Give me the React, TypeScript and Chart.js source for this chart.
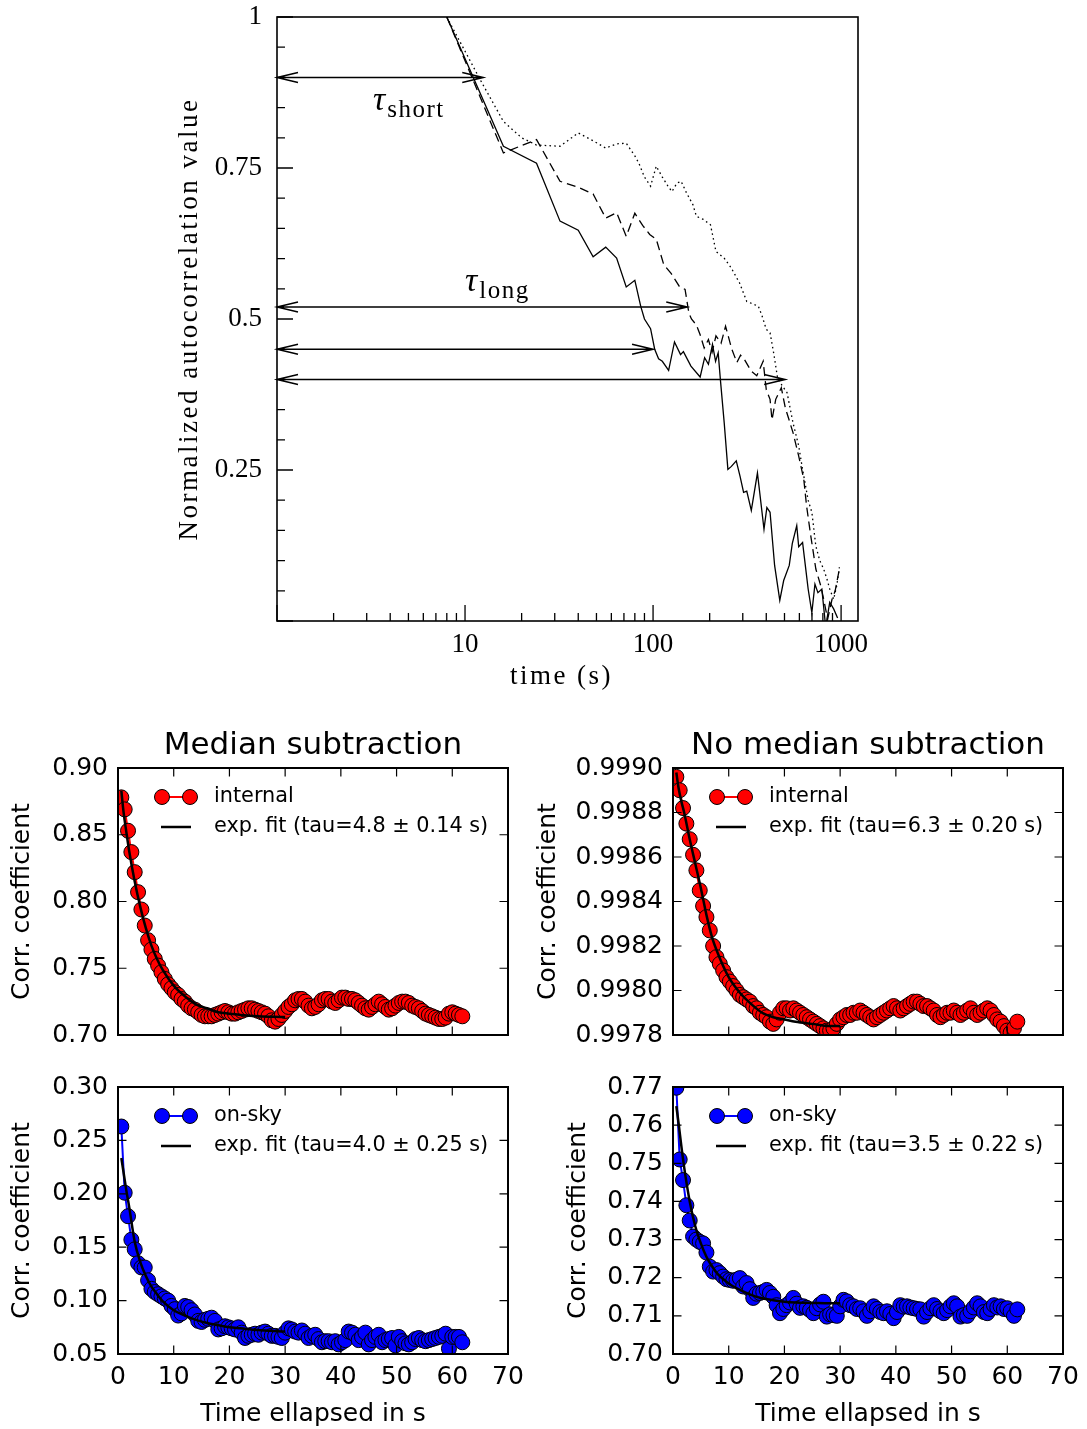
import React, { useEffect, useRef } from 'react';
import { Chart, registerables } from 'chart.js';

Chart.register(...registerables);

const SERIF = "'Liberation Serif', serif";
const SANS = "'DejaVu Sans', sans-serif";

// ---------------- Top chart data (log time axis) ----------------
const solidT = [8,16,24,32,40,48,56,64,72,80,86,90,97,102,107,112,121,130,140,145,159,178,188,197,207,215,222,228,239,250,261,277,290,303,315,333,359,389,403,419,443,472,495,530,550,581,595,624,638,668,699,726,753,790,828,870,913,958];
const solidV = [1.0,0.786,0.758,0.662,0.647,0.603,0.619,0.601,0.553,0.564,0.521,0.500,0.484,0.450,0.434,0.430,0.415,0.462,0.441,0.446,0.422,0.404,0.436,0.425,0.458,0.430,0.444,0.400,0.328,0.251,0.256,0.265,0.240,0.213,0.215,0.183,0.245,0.152,0.188,0.180,0.092,0.034,0.067,0.092,0.128,0.158,0.123,0.130,0.105,0.053,0.014,0.061,0.047,0.053,-0.010,0.031,0.020,0.005];

const dashedT = [8,16,24,32,40,48,56,64,72,80,88,96,104,114,125,138,148,155,160,170,178,187,197,206,216,230,243,252,261,279,292,306,332,356,385,400,419,429,449,481,505,555,595,633,655,686,734,780,808,848,895,930,979];
const dashedV = [1.0,0.775,0.797,0.728,0.718,0.707,0.667,0.676,0.637,0.675,0.655,0.640,0.632,0.590,0.575,0.554,0.549,0.510,0.500,0.490,0.474,0.452,0.466,0.445,0.472,0.460,0.488,0.470,0.452,0.428,0.440,0.433,0.414,0.406,0.430,0.383,0.367,0.333,0.367,0.386,0.353,0.312,0.273,0.235,0.191,0.146,0.086,0.058,0.036,0.003,0.036,0.050,0.086];

const dottedT = [8,12,16,20,24,32,40,48,56,64,72,80,84,90,97,104,112,120,126,134,141,150,163,170,185,202,216,240,260,288,315,340,363,380,400,419,440,458,485,516,555,595,624,668,699,734,770,808,840,870,913,950,979];
const dottedV = [1.0,0.897,0.827,0.800,0.788,0.786,0.808,0.795,0.783,0.790,0.791,0.770,0.758,0.735,0.720,0.753,0.735,0.720,0.711,0.725,0.728,0.710,0.689,0.670,0.665,0.656,0.612,0.600,0.585,0.560,0.529,0.525,0.521,0.505,0.483,0.477,0.440,0.405,0.390,0.378,0.328,0.290,0.251,0.200,0.180,0.124,0.100,0.086,0.070,0.053,0.036,0.060,0.089];

const topXMajor = [1, 10, 100, 1000];
const topXLabels = [10, 100, 1000];
const topXTicks = [1,2,3,4,5,6,7,8,9,10,20,30,40,50,60,70,80,90,100,200,300,400,500,600,700,800,900,1000];

// double-headed arrows (start time, end time, level)
const arrowStart = 1;
const arrowLevels = [0.9, 0.52, 0.45, 0.40];
const arrowEnds = [12.5, 152, 100, 504];
const tauLabels = [
  { t: 3.24, v: 0.846, sub: 'short' },
  { t: 10.0, v: 0.547, sub: 'long' },
];

// ---------------- Bottom panels data ----------------
const times = [
  0.6,1.2,1.8,2.4,3.0,3.6,4.2,4.8,5.4,6.0,
  6.6,7.2,7.8,8.4,9.0,9.6,10.2,10.8,11.4,12.0,
  12.6,13.2,13.8,14.4,15.0,15.6,16.2,16.8,17.4,18.0,
  18.6,19.2,19.8,20.4,21.0,21.6,22.2,22.8,23.4,24.0,
  24.6,25.2,25.8,26.4,27.0,27.6,28.2,28.8,29.4,30.0,
  30.6,31.2,31.8,32.4,33.0,33.6,34.2,34.8,35.4,36.0,
  36.6,37.2,37.8,38.4,39.0,39.6,40.2,40.8,41.4,42.0,
  42.6,43.2,43.8,44.4,45.0,45.6,46.2,46.8,47.4,48.0,
  48.6,49.2,49.8,50.4,51.0,51.6,52.2,52.8,53.4,54.0,
  54.6,55.2,55.8,56.4,57.0,57.6,58.2,58.8,59.4,60.0,
  60.6,61.2,61.8,
];

const medInternal = [
  0.878,0.869,0.853,0.837,0.822,0.807,0.794,0.782,0.771,0.764,
  0.757,0.752,0.747,0.742,0.738,0.735,0.732,0.730,0.727,0.725,
  0.722,0.720,0.719,0.717,0.715,0.714,0.714,0.714,0.715,0.716,
  0.717,0.718,0.717,0.716,0.716,0.717,0.718,0.719,0.720,0.720,
  0.719,0.718,0.717,0.716,0.714,0.711,0.710,0.712,0.715,0.718,
  0.721,0.723,0.726,0.727,0.727,0.725,0.722,0.720,0.721,0.723,
  0.726,0.727,0.727,0.725,0.724,0.726,0.728,0.728,0.727,0.727,
  0.726,0.724,0.722,0.720,0.719,0.721,0.723,0.725,0.723,0.721,
  0.719,0.720,0.722,0.724,0.725,0.725,0.724,0.722,0.721,0.720,
  0.718,0.716,0.715,0.714,0.713,0.712,0.712,0.713,0.716,0.717,
  0.716,0.715,0.714,
];

const noMedInternal = [
  0.99896,0.99890,0.99882,0.99875,0.99868,0.99861,0.99854,0.99845,0.99838,0.99833,
  0.99827,0.99820,0.99815,0.99812,0.99809,0.99806,0.99804,0.99802,0.99800,0.99798,
  0.99797,0.99796,0.99795,0.99793,0.99792,0.99790,0.99789,0.99788,0.99786,0.99785,
  0.99787,0.99790,0.99792,0.99792,0.99791,0.99792,0.99791,0.99790,0.99789,0.99788,
  0.99787,0.99786,0.99785,0.99784,0.99783,0.99782,0.99782,0.99783,0.99785,0.99787,
  0.99788,0.99789,0.99789,0.99790,0.99790,0.99791,0.99790,0.99789,0.99788,0.99787,
  0.99788,0.99789,0.99790,0.99791,0.99792,0.99793,0.99792,0.99791,0.99792,0.99793,
  0.99794,0.99795,0.99795,0.99794,0.99793,0.99793,0.99792,0.99791,0.99789,0.99788,
  0.99789,0.99790,0.99790,0.99791,0.99790,0.99789,0.99790,0.99791,0.99792,0.99790,
  0.99789,0.99790,0.99791,0.99792,0.99791,0.99789,0.99787,0.99786,0.99784,0.99782,
  0.99781,0.99783,0.99786,
];

const medSky = [
  0.263,0.201,0.179,0.157,0.148,0.135,0.131,0.131,0.119,0.111,
  0.108,0.106,0.104,0.102,0.100,0.095,0.092,0.086,0.088,0.095,
  0.094,0.091,0.087,0.081,0.080,0.082,0.083,0.084,0.081,0.073,
  0.074,0.076,0.075,0.074,0.073,0.075,0.070,0.065,0.067,0.068,
  0.069,0.068,0.070,0.071,0.069,0.067,0.067,0.066,0.065,0.070,
  0.074,0.073,0.071,0.070,0.072,0.069,0.065,0.067,0.068,0.064,
  0.061,0.062,0.062,0.061,0.062,0.059,0.061,0.063,0.071,0.070,
  0.068,0.063,0.066,0.070,0.059,0.063,0.066,0.068,0.061,0.063,
  0.064,0.065,0.058,0.066,0.062,0.060,0.059,0.061,0.064,0.065,
  0.063,0.062,0.063,0.064,0.065,0.066,0.067,0.069,0.055,0.066,
  0.066,0.066,0.061,
];

const noMedSky = [
  0.7698,0.7510,0.7456,0.7390,0.7350,0.7308,0.7300,0.7294,0.7290,0.7266,
  0.7229,0.7216,0.7220,0.7212,0.7203,0.7196,0.7194,0.7192,0.7195,0.7199,
  0.7177,0.7186,0.7170,0.7147,0.7158,0.7160,0.7163,0.7168,0.7160,0.7150,
  0.7128,0.7107,0.7118,0.7128,0.7135,0.7147,0.7132,0.7121,0.7125,0.7121,
  0.7115,0.7107,0.7120,0.7130,0.7137,0.7098,0.7104,0.7102,0.7100,0.7125,
  0.7142,0.7138,0.7128,0.7125,0.7118,0.7120,0.7112,0.7100,0.7112,0.7125,
  0.7118,0.7110,0.7107,0.7112,0.7105,0.7094,0.7110,0.7128,0.7124,0.7125,
  0.7122,0.7120,0.7118,0.7117,0.7098,0.7110,0.7120,0.7128,0.7118,0.7112,
  0.7107,0.7115,0.7125,0.7133,0.7125,0.7098,0.7102,0.7100,0.7112,0.7122,
  0.7133,0.7125,0.7110,0.7107,0.7118,0.7128,0.7122,0.7125,0.7118,0.7120,
  0.7112,0.7100,0.7117,
];

const fitT = [0.6,1,1.5,2,3,4,5,6,7,8,10,12,14,16,18,20,22,25,28,30];
const fitMedInternal = [0.883,0.867,0.852,0.838,0.815,0.796,0.780,0.767,0.757,0.749,0.737,0.729,0.723,0.720,0.717,0.716,0.715,0.714,0.7136,0.7134];
const fitNoMedInternal = [0.99898,0.99891,0.99885,0.99880,0.99868,0.99857,0.99846,0.99834,0.99824,0.99817,0.99806,0.99799,0.99794,0.99790,0.99788,0.99787,0.99786,0.99785,0.99784,0.99784];
const fitMedSky = [0.2335,0.220,0.203,0.188,0.155,0.136,0.123,0.113,0.106,0.0995,0.091,0.086,0.082,0.079,0.077,0.075,0.074,0.0725,0.0715,0.071];
const fitNoMedSky = [0.7650,0.7605,0.7545,0.7490,0.7400,0.7335,0.7290,0.7255,0.7230,0.7210,0.7185,0.7168,0.7155,0.7146,0.7141,0.7137,0.7135,0.7134,0.7133,0.7133];

const pts = (xs: number[], ys: number[]) => xs.map((x, i) => ({ x, y: ys[i] }));

// ---------------- Top chart ----------------
const topDecor = {
  id: 'topDecor',
  afterDraw(chart: any) {
    const { ctx, chartArea: a, scales } = chart;
    const x = scales.x, y = scales.y;
    ctx.save();
    ctx.strokeStyle = '#000';
    ctx.fillStyle = '#000';
    // inward ticks (left and bottom only)
    ctx.lineWidth = 1.3;
    ctx.beginPath();
    x.ticks.forEach((t: any) => {
      const px = x.getPixelForValue(t.value);
      const len = topXMajor.includes(t.value) ? 16 : 8;
      ctx.moveTo(px, a.bottom);
      ctx.lineTo(px, a.bottom - len);
    });
    y.ticks.forEach((t: any) => {
      const py = y.getPixelForValue(t.value);
      const major = Math.abs(t.value * 4 - Math.round(t.value * 4)) < 1e-6;
      ctx.moveTo(a.left, py);
      ctx.lineTo(a.left + (major ? 16 : 8), py);
    });
    ctx.stroke();
    // frame
    ctx.lineWidth = 1.6;
    ctx.strokeRect(a.left, a.top, a.right - a.left, a.bottom - a.top);
    // arrows
    ctx.lineWidth = 1.5;
    arrowLevels.forEach((lv, i) => {
      const py = y.getPixelForValue(lv);
      const x0 = x.getPixelForValue(arrowStart);
      const x1 = x.getPixelForValue(arrowEnds[i]);
      ctx.beginPath();
      ctx.moveTo(x0, py); ctx.lineTo(x1, py);
      ctx.moveTo(x0 + 21, py - 5); ctx.lineTo(x0, py); ctx.lineTo(x0 + 21, py + 5);
      ctx.moveTo(x1 - 21, py - 5); ctx.lineTo(x1, py); ctx.lineTo(x1 - 21, py + 5);
      ctx.stroke();
    });
    // tau labels
    tauLabels.forEach((l) => {
      const px = x.getPixelForValue(l.t);
      const py = y.getPixelForValue(l.v);
      ctx.textAlign = 'left';
      ctx.textBaseline = 'alphabetic';
      ctx.font = `italic 34px ${SERIF}`;
      (ctx as any).letterSpacing = '0px';
      ctx.fillText('τ', px, py);
      const w = ctx.measureText('τ').width;
      ctx.font = `25px ${SERIF}`;
      (ctx as any).letterSpacing = '1.5px';
      ctx.fillText(l.sub, px + w + 2, py + 7);
    });
    // axis titles
    ctx.font = `27px ${SERIF}`;
    (ctx as any).letterSpacing = '2.5px';
    ctx.textAlign = 'center';
    ctx.textBaseline = 'middle';
    ctx.fillText('time (s)', (a.left + a.right) / 2 - 6, a.bottom + 56);
    ctx.save();
    ctx.translate(a.left - 87, (a.top + a.bottom) / 2);
    ctx.rotate(-Math.PI / 2);
    ctx.fillText('Normalized autocorrelation value', 0, 0);
    ctx.restore();
    (ctx as any).letterSpacing = '0px';
    ctx.restore();
  },
};

function makeTop() {
  const lineBase = { borderColor: '#000', borderWidth: 1.3, pointRadius: 0, tension: 0, fill: false, clip: 0 };
  return {
    type: 'line',
    data: {
      datasets: [
        { ...lineBase, label: 'solid', data: pts(solidT, solidV) },
        { ...lineBase, label: 'dashed', data: pts(dashedT, dashedV), borderDash: [9, 5] },
        { ...lineBase, label: 'dotted', data: pts(dottedT, dottedV), borderDash: [1.6, 3.2] },
      ],
    },
    options: {
      animation: false,
      responsive: false,
      devicePixelRatio: 1,
      events: [],
      layout: { padding: { left: 0, top: 17, right: 229, bottom: 0 } },
      plugins: { legend: { display: false }, tooltip: { enabled: false }, title: { display: false } },
      scales: {
        x: {
          type: 'logarithmic',
          min: 1,
          max: 1230,
          grid: { display: false, drawTicks: false },
          border: { display: false },
          afterBuildTicks: (s: any) => { s.ticks = topXTicks.map((v) => ({ value: v })); },
          ticks: {
            autoSkip: false, maxRotation: 0, minRotation: 0, padding: 8, color: '#000',
            font: { family: SERIF, size: 27 },
            callback: (v: any) => (topXLabels.includes(Number(v)) ? String(v) : ''),
          },
          afterFit: (s: any) => { s.height = 79; s.paddingLeft = 0; s.paddingRight = 0; },
        },
        y: {
          type: 'linear',
          min: 0,
          max: 1,
          grid: { display: false, drawTicks: false },
          border: { display: false },
          ticks: {
            stepSize: 0.05, autoSkip: false, padding: 15, color: '#000',
            font: { family: SERIF, size: 27 },
            callback: (v: any) => {
              const n = Number(v);
              if (n <= 0) return '';
              if (Math.abs(n * 4 - Math.round(n * 4)) > 1e-6) return '';
              return String(Math.round(n * 100) / 100);
            },
          },
          afterFit: (s: any) => { s.width = 277; s.paddingTop = 0; s.paddingBottom = 0; },
        },
      },
    },
    plugins: [topDecor],
  };
}

// ---------------- Bottom panels ----------------
type LegendItem = { kind: 'marker' | 'line'; color: string; label: string };

function panelDecor(legend: LegendItem[]) {
  return {
    id: 'panelDecor',
    afterDraw(chart: any) {
      const { ctx, chartArea: a, scales } = chart;
      const x = scales.x, y = scales.y;
      ctx.save();
      ctx.strokeStyle = '#000';
      ctx.lineWidth = 1.2;
      const L = 8.5;
      ctx.beginPath();
      x.ticks.forEach((t: any) => {
        const px = x.getPixelForValue(t.value);
        ctx.moveTo(px, a.bottom); ctx.lineTo(px, a.bottom - L);
        ctx.moveTo(px, a.top); ctx.lineTo(px, a.top + L);
      });
      y.ticks.forEach((t: any) => {
        const py = y.getPixelForValue(t.value);
        ctx.moveTo(a.left, py); ctx.lineTo(a.left + L, py);
        ctx.moveTo(a.right, py); ctx.lineTo(a.right - L, py);
      });
      ctx.stroke();
      ctx.lineWidth = 2;
      ctx.strokeRect(a.left, a.top, a.right - a.left, a.bottom - a.top);
      // legend (inside, upper left, no frame)
      legend.forEach((it, i) => {
        const yy = a.top + 29 + i * 30;
        const xa = a.left + 44;
        const xb = a.left + 72;
        if (it.kind === 'marker') {
          ctx.strokeStyle = it.color;
          ctx.lineWidth = 2;
          ctx.beginPath(); ctx.moveTo(xa, yy); ctx.lineTo(xb, yy); ctx.stroke();
          [xa, xb].forEach((cx) => {
            ctx.beginPath();
            ctx.arc(cx, yy, 7.5, 0, Math.PI * 2);
            ctx.fillStyle = it.color; ctx.fill();
            ctx.strokeStyle = '#000'; ctx.lineWidth = 1; ctx.stroke();
          });
        } else {
          ctx.strokeStyle = it.color;
          ctx.lineWidth = 2.5;
          ctx.beginPath(); ctx.moveTo(xa - 1, yy); ctx.lineTo(xb + 1, yy); ctx.stroke();
        }
        ctx.fillStyle = '#000';
        ctx.font = `20.8px ${SANS}`;
        ctx.textAlign = 'left';
        ctx.textBaseline = 'middle';
        ctx.fillText(it.label, a.left + 96, yy);
      });
      ctx.restore();
    },
  };
}

type PanelSpec = {
  title?: string;
  values: number[];
  fit: number[];
  color: string;
  yMin: number; yMax: number; yStep: number; dec: number;
  yWidth: number; padRight: number; padTop: number; xHeight: number;
  showX: boolean; yTitlePad: number;
  legend: LegendItem[];
};

function makePanel(p: PanelSpec) {
  const tickFont = { family: SANS, size: 25 };
  return {
    type: 'line',
    data: {
      datasets: [
        { label: 'fit', data: pts(fitT, p.fit), borderColor: '#000', borderWidth: 2.5, pointRadius: 0, cubicInterpolationMode: 'monotone', fill: false, clip: 0 },
        { label: 'data', data: pts(times, p.values), borderColor: p.color, borderWidth: 2, pointRadius: 7.5, pointBackgroundColor: p.color, pointBorderColor: '#000', pointBorderWidth: 1, tension: 0, fill: false, clip: 0 },
      ],
    },
    options: {
      animation: false,
      responsive: false,
      devicePixelRatio: 1,
      events: [],
      layout: { padding: { left: 0, right: p.padRight, top: p.padTop, bottom: 0 } },
      plugins: {
        legend: { display: false },
        tooltip: { enabled: false },
        title: p.title
          ? { display: true, text: p.title, fullSize: false, color: '#000', font: { family: SANS, size: 31, weight: 'normal' }, padding: { top: 27, bottom: 3.8 } }
          : { display: false },
      },
      scales: {
        x: {
          type: 'linear', min: 0, max: 70,
          grid: { display: false, drawTicks: false },
          border: { display: false },
          ticks: { display: p.showX, stepSize: 10, padding: 8, color: '#000', font: tickFont, maxRotation: 0, minRotation: 0, autoSkip: false },
          title: { display: p.showX, text: 'Time ellapsed in s', color: '#000', font: tickFont, padding: { top: 0, bottom: 0 } },
          afterFit: (s: any) => { s.height = p.xHeight; s.paddingLeft = 0; s.paddingRight = 0; },
        },
        y: {
          type: 'linear', min: p.yMin, max: p.yMax,
          grid: { display: false, drawTicks: false },
          border: { display: false },
          ticks: { stepSize: p.yStep, padding: 10, color: '#000', font: tickFont, autoSkip: false, callback: (v: any) => Number(v).toFixed(p.dec) },
          title: { display: true, text: 'Corr. coefficient', color: '#000', font: tickFont, padding: { top: p.yTitlePad, bottom: 0 } },
          afterFit: (s: any) => { s.width = p.yWidth; s.paddingTop = 0; s.paddingBottom = 0; },
        },
      },
    },
    plugins: [panelDecor(p.legend)],
  };
}

const RED = '#ff0000';
const BLUE = '#0000ff';

const panels = [
  {
    box: { left: 0, top: 700, width: 540, height: 360 },
    spec: {
      title: 'Median subtraction', values: medInternal, fit: fitMedInternal, color: RED,
      yMin: 0.70, yMax: 0.90, yStep: 0.05, dec: 2, yWidth: 118, padRight: 32, padTop: 0, xHeight: 25,
      showX: false, yTitlePad: 7,
      legend: [{ kind: 'marker', color: RED, label: 'internal' }, { kind: 'line', color: '#000', label: 'exp. fit (tau=4.8 ± 0.14 s)' }],
    },
  },
  {
    box: { left: 530, top: 700, width: 557, height: 360 },
    spec: {
      title: 'No median subtraction', values: noMedInternal, fit: fitNoMedInternal, color: RED,
      yMin: 0.9978, yMax: 0.9990, yStep: 0.0002, dec: 4, yWidth: 143, padRight: 24, padTop: 0, xHeight: 25,
      showX: false, yTitlePad: 3,
      legend: [{ kind: 'marker', color: RED, label: 'internal' }, { kind: 'line', color: '#000', label: 'exp. fit (tau=6.3 ± 0.20 s)' }],
    },
  },
  {
    box: { left: 0, top: 1060, width: 540, height: 369 },
    spec: {
      values: medSky, fit: fitMedSky, color: BLUE,
      yMin: 0.05, yMax: 0.30, yStep: 0.05, dec: 2, yWidth: 118, padRight: 32, padTop: 27, xHeight: 75,
      showX: true, yTitlePad: 7,
      legend: [{ kind: 'marker', color: BLUE, label: 'on-sky' }, { kind: 'line', color: '#000', label: 'exp. fit (tau=4.0 ± 0.25 s)' }],
    },
  },
  {
    box: { left: 530, top: 1060, width: 557, height: 369 },
    spec: {
      values: noMedSky, fit: fitNoMedSky, color: BLUE,
      yMin: 0.70, yMax: 0.77, yStep: 0.01, dec: 2, yWidth: 143, padRight: 24, padTop: 27, xHeight: 75,
      showX: true, yTitlePad: 33,
      legend: [{ kind: 'marker', color: BLUE, label: 'on-sky' }, { kind: 'line', color: '#000', label: 'exp. fit (tau=3.5 ± 0.22 s)' }],
    },
  },
];

function ChartBox(props: { left: number; top: number; width: number; height: number; make: () => any }) {
  const ref = useRef<HTMLCanvasElement | null>(null);
  useEffect(() => {
    if (!ref.current) return;
    const chart = new Chart(ref.current, props.make());
    return () => chart.destroy();
  }, []);
  return (
    <canvas
      ref={ref}
      width={props.width}
      height={props.height}
      style={{ position: 'absolute', left: props.left, top: props.top, width: props.width, height: props.height }}
    />
  );
}

export default function App() {
  return (
    <div style={{ position: 'absolute', left: 0, top: 0, width: 1087, height: 1429, background: '#fff', overflow: 'hidden' }}>
      <ChartBox left={0} top={0} width={1087} height={700} make={makeTop} />
      {panels.map((p, i) => (
        <ChartBox key={i} {...p.box} make={() => makePanel(p.spec as PanelSpec)} />
      ))}
    </div>
  );
}
